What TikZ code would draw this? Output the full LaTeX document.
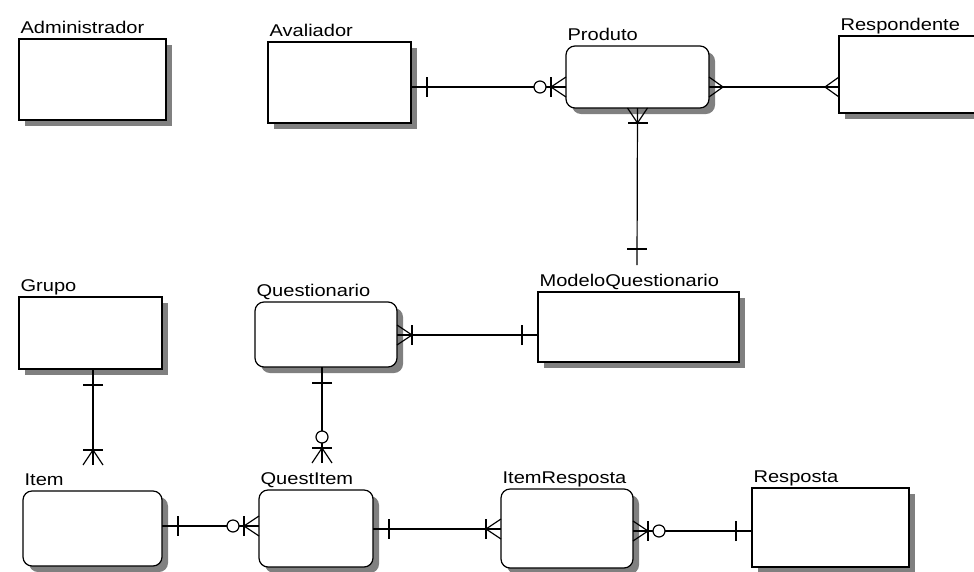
\documentclass[tikz,border=0pt]{standalone}
\usepackage{fontspec}
\setmainfont{Liberation Sans}[FakeStretch=1.18]
\usetikzlibrary{shadows}

\begin{document}
\begin{tikzpicture}[x=1pt, y=-1pt, line width=1.2pt,
  entity/.style={draw, fill=white, anchor=north west, inner sep=0, outer sep=0,
    drop shadow={shadow xshift=6pt, shadow yshift=-6pt, fill=black!50, opacity=1}},
  rentity/.style={entity, rounded corners=9pt},
  lbl/.style={anchor=base west, inner sep=0, xshift=1pt, yshift=6pt,
    font=\fontsize{17}{20}\selectfont},
  one/.pic={\draw (16,-10) -- (16,10);},
  many/.pic={\draw (0,-10) -- (14,0) -- (0,10);},
  onemany/.pic={\draw (0,-10) -- (15,0) -- (0,10); \draw (15,-10) -- (15,10);},
  zeromany/.pic={\draw (0,-10) -- (15,0) -- (0,10); \draw (15,-10) -- (15,10);
    \draw[fill=white] (26,0) circle[radius=6pt];}]
  \clip (0,0) rectangle (974,571);
  % entities, top row
  \node[entity, minimum width=147pt, minimum height=81pt] (admin) at (19,39) {};
  \node[entity, minimum width=143pt, minimum height=81pt] (aval) at (268,42) {};
  \node[rentity, minimum width=143pt, minimum height=62pt] (produto) at (566,46) {};
  \node[entity, minimum width=200pt, minimum height=77pt] (respondente) at (839,36) {};
  % middle row
  \node[entity, minimum width=143pt, minimum height=72pt] (grupo) at (19,297) {};
  \node[rentity, minimum width=142pt, minimum height=65pt] (quest) at (255,302) {};
  \node[entity, minimum width=201pt, minimum height=70pt] (modelo) at (538,292) {};
  % bottom row
  \node[rentity, minimum width=139pt, minimum height=75pt] (item) at (23,491) {};
  \node[rentity, minimum width=114pt, minimum height=77pt] (questitem) at (259,490) {};
  \node[rentity, minimum width=132pt, minimum height=79pt] (itemresp) at (501,489) {};
  \node[entity, minimum width=157pt, minimum height=79pt] (resposta) at (752,488) {};
  % names
  \node[lbl] (tAdmin) at (admin.north west) {Administrador};
  \node[lbl] (tAval) at (aval.north west) {Avaliador};
  \node[lbl] (tProduto) at (produto.north west) {Produto};
  \node[lbl] (tRespondente) at (respondente.north west) {Respondente};
  \node[lbl] (tGrupo) at (grupo.north west) {Grupo};
  \node[lbl] (tQuest) at (quest.north west) {Questionario};
  \node[lbl] (tModelo) at (modelo.north west) {ModeloQuestionario};
  \node[lbl] (tItem) at (item.north west) {Item};
  \node[lbl] (tQuestItem) at (questitem.north west) {QuestItem};
  \node[lbl] (tItemResp) at (itemresp.north west) {ItemResposta};
  \node[lbl] (tResposta) at (resposta.north west) {Resposta};
  % levels of the relationship lines
  \coordinate (yAP) at (0,87);
  \coordinate (yQM) at (0,335);
  \coordinate (yIQ) at (0,526);
  \coordinate (yQR) at (0,529);
  \coordinate (yRR) at (0,531);
  \coordinate (xGI) at (93,0);
  \coordinate (xQQ) at (322,0);
  \coordinate (mqTop) at (637,265);
  \coordinate (itemTop) at (93,465);
  \coordinate (qiTop) at (322,463);
  % relationships
  \draw (aval.east |- yAP) -- (produto.west |- yAP);
  \pic at (aval.east |- yAP) {one};
  \pic[rotate=180] at (produto.west |- yAP) {zeromany};
  \draw (produto.east |- yAP) -- (respondente.west |- yAP);
  \pic at (produto.east |- yAP) {many};
  \pic[rotate=180] at (respondente.west |- yAP) {many};
  \draw (produto.south) -- (mqTop);
  \pic[rotate=-90] at (produto.south) {onemany};
  \pic[rotate=90] at (mqTop) {one};
  \draw (quest.east |- yQM) -- (modelo.west |- yQM);
  \pic at (quest.east |- yQM) {onemany};
  \pic[rotate=180] at (modelo.west |- yQM) {one};
  \draw (grupo.south -| xGI) -- (itemTop);
  \pic[rotate=-90] at (grupo.south -| xGI) {one};
  \pic[rotate=90] at (itemTop) {onemany};
  \draw (quest.south -| xQQ) -- (qiTop);
  \pic[rotate=-90] at (quest.south -| xQQ) {one};
  \pic[rotate=90] at (qiTop) {zeromany};
  \draw (item.east |- yIQ) -- (questitem.west |- yIQ);
  \pic at (item.east |- yIQ) {one};
  \pic[rotate=180] at (questitem.west |- yIQ) {zeromany};
  \draw (questitem.east |- yQR) -- (itemresp.west |- yQR);
  \pic at (questitem.east |- yQR) {one};
  \pic[rotate=180] at (itemresp.west |- yQR) {onemany};
  \draw (itemresp.east |- yRR) -- (resposta.west |- yRR);
  \pic at (itemresp.east |- yRR) {zeromany};
  \pic[rotate=180] at (resposta.west |- yRR) {one};
\end{tikzpicture}
\end{document}
